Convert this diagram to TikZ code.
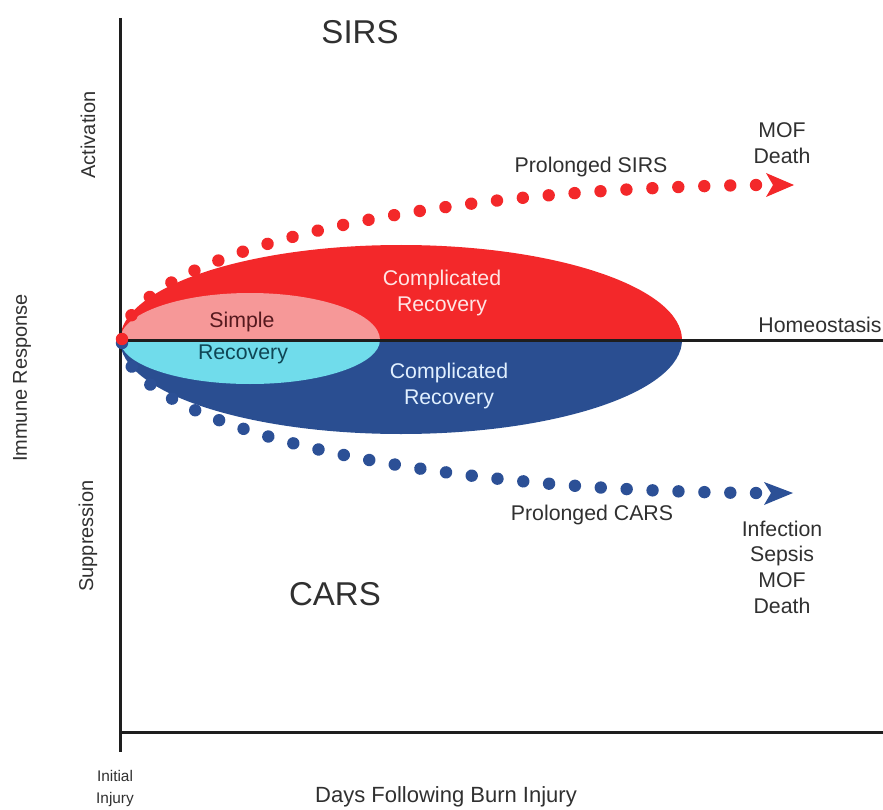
\documentclass[tikz,border=0pt]{standalone}
\usepackage{fontspec}
\setmainfont{Liberation Sans}
\usetikzlibrary{decorations.markings}

\definecolor{sirsred}{RGB}{243,40,42}
\definecolor{simplepink}{RGB}{246,152,152}
\definecolor{simplecyan}{RGB}{112,220,235}
\definecolor{carsblue}{RGB}{42,78,145}
\definecolor{dotblue}{RGB}{44,80,150}
\definecolor{labelgray}{RGB}{48,48,48}
\definecolor{axisdark}{RGB}{30,30,30}
\definecolor{lightpink}{RGB}{255,228,228}
\definecolor{lightblue}{RGB}{225,240,255}
\definecolor{darkmaroon}{RGB}{85,25,30}
\definecolor{darkteal}{RGB}{15,70,85}

\begin{document}
\begin{tikzpicture}[x=1pt,y=-1pt,
  lbl/.style={text=labelgray, font=\fontsize{21.3}{25.7}\selectfont, align=center, inner sep=0pt},
  axislbl/.style={text=labelgray, font=\fontsize{20}{24}\selectfont, rotate=90, inner sep=0pt},
  biglbl/.style={text=labelgray, font=\fontsize{33}{36}\selectfont, inner sep=0pt},
  smalllbl/.style={text=labelgray, font=\fontsize{15.4}{22}\selectfont, align=center, inner sep=0pt},
  axisline/.style={draw=axisdark, line width=3pt},
  dotpath/.style={decorate, decoration={markings,
      mark=between positions 0 and 1 step 0.03845 with {\fill[#1] (0,0) circle (6.2pt);}}},
]
\useasboundingbox (0,0) rectangle (883,810);

% recovery regions: upper half above homeostasis, lower half below
\begin{scope}
  \clip (100,200) rectangle (700,340);
  \fill[sirsred] (401,340) ellipse [x radius=281, y radius=95];
  \fill[simplepink] (250,340) ellipse [x radius=130, y radius=47];
\end{scope}
\begin{scope}
  \clip (100,340) rectangle (700,480);
  \fill[carsblue] (401,340) ellipse [x radius=281, y radius=94];
  \fill[simplecyan] (250,340) ellipse [x radius=130, y radius=44];
\end{scope}

% axes and the homeostasis baseline
\coordinate (origin) at (120,340);
\coordinate (ytop) at (120,18);
\coordinate (ybot) at (120,752);
\coordinate (xleft) at (120,732);
\coordinate (xright) at (883,732);
\coordinate (hright) at (883,340);
\draw[axisline] (ytop) -- (ybot);
\draw[axisline] (xleft) -- (xright);
\draw[axisline] (origin) -- (hright);

% prolonged trajectories drawn as rows of dots
\coordinate (carsstart) at (122,343);
\coordinate (carsend) at (756,493);
\coordinate (sirsstart) at (122,339);
\coordinate (sirsend) at (756,185);
\path[dotpath=dotblue] (carsstart) .. controls (127,418) and (380,490) .. (carsend);
\fill[dotblue] (carsend) circle (6.2pt);
\path[dotpath=sirsred] (sirsstart) .. controls (127,262) and (380,190) .. (sirsend);
\fill[sirsred] (sirsend) circle (6.2pt);

% arrowheads at the ends of the trajectories
\fill[sirsred] (766,173) -- (794,185) -- (766,197) -- (773,185) -- cycle;
\fill[dotblue] (764,482) -- (793,493) -- (764,505) -- (771,493) -- cycle;

% labels
\node[biglbl] (sirs) at (360,32) {SIRS};
\node[biglbl] (cars) at (335,594) {CARS};
\node[axislbl] (act) at (88,135) {Activation};
\node[axislbl] (supp) at (88,536) {Suppression};
\node[axislbl] (imm) at (22,378) {Immune Response};
\node[lbl] (psirs) at (591,167) {Prolonged SIRS};
\node[lbl] (mof) at (782,143) {MOF\\Death};
\node[lbl] (homeo) at (820,325) {Homeostasis};
\node[lbl, text=lightpink] (cr1) at (442,293) {Complicated\\Recovery};
\node[lbl, text=darkmaroon] (simple) at (242,322) {Simple};
\node[lbl, text=darkteal] (rec) at (243,354) {Recovery};
\node[lbl, text=lightblue] (cr2) at (449,386) {Complicated\\Recovery};
\node[lbl] (pcars) at (592,515) {Prolonged CARS};
\node[lbl] (outcome) at (782,567) {Infection\\Sepsis\\MOF\\Death};
\node[smalllbl] (init) at (115,789) {Initial\\Injury};
\node[lbl, font=\fontsize{22}{26}\selectfont] (days) at (446,797) {Days Following Burn Injury};
\end{tikzpicture}
\end{document}
